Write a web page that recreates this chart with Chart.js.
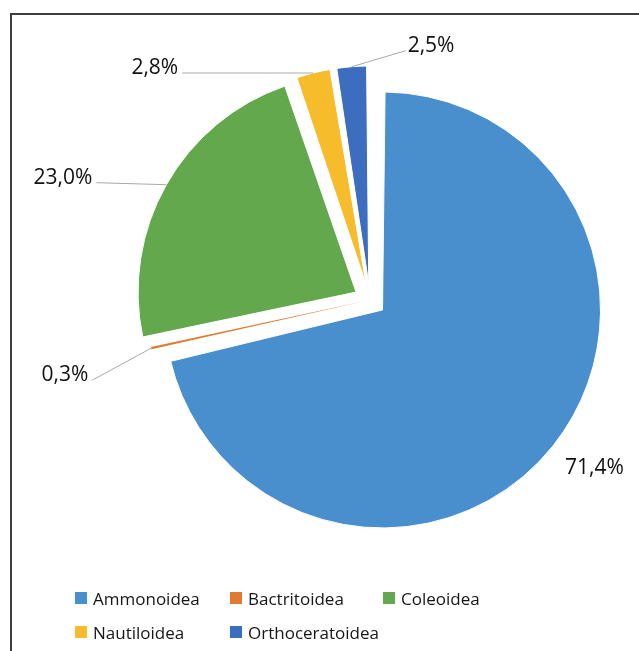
<!DOCTYPE html>
<html>
<head>
<meta charset="utf-8">
<script src="https://cdn.jsdelivr.net/npm/chart.js@4"></script>
<style>
  html, body { margin: 0; padding: 0; background: #fff; }
  body { width: 639px; height: 651px; position: relative; overflow: hidden; font-family: "Open Sans", sans-serif; }
  #frame { position: absolute; left: 10px; top: 13px; width: 660px; height: 680px;
           border-left: 2px solid #3d3d3d; border-top: 2px solid #3d3d3d; }
  #wrap { position: absolute; left: 0; top: 0; width: 639px; height: 651px; }
  .lg-item { position: absolute; display: flex; align-items: center; height: 24px;
             font-size: 17px; color: #161616; white-space: nowrap; }
  .lg-box { width: 12px; height: 12px; margin-right: 6px; }
</style>
</head>
<body>
<div id="frame"></div>
<div id="wrap"><canvas id="pie"></canvas></div>
<div id="legend"></div>
<script>
'use strict';

/* data */
const categories  = ['Ammonoidea', 'Bactritoidea', 'Coleoidea', 'Nautiloidea', 'Orthoceratoidea'];
const shares      = [71.4, 0.3, 23.0, 2.8, 2.5];
const sliceColors = ['#4A8FCD', '#E07A33', '#64A84D', '#F7BC2B', '#3C6DBE'];

/* explode per slice (chart.js moves an arc by a quarter of this) */
const explode = [64, 24, 64, 64, 64];

/* where each value label sits, relative to the slice's outer mid point: dx, dy, leader line */
const labelShift = [
  [10, 27, false],
  [-59, 32, true],
  [-70, -2, true],
  [-131, 0, true],
  [54, -16, true],
];

/* legend grid: column x, row y */
const legendCols = [75, 230, 383];
const legendRows = [586, 620];

const pctText = v => v.toFixed(1).replace('.', ',') + '%';

// keep exploded slices at one visible radius (chart.js grows the outer edge with offset)
const evenRadius = {
  id: 'evenRadius',
  beforeDatasetsDraw(chart) {
    const meta = chart.getDatasetMeta(0);
    const R = meta.controller.outerRadius;
    meta.data.forEach(arc => {
      const t = (arc.options.offset || 0) / 4;
      const fix = 1 - Math.sin(Math.min(Math.PI, arc.circumference));
      arc.outerRadius = R - t * fix;
    });
  }
};

const sliceLabels = {
  id: 'sliceLabels',
  afterDatasetsDraw(chart) {
    const { ctx } = chart;
    const meta = chart.getDatasetMeta(0);
    const R = meta.controller.outerRadius;
    ctx.save();
    ctx.font = '21px "Open Sans"';
    ctx.fillStyle = '#111111';
    ctx.strokeStyle = '#a9a9a9';
    ctx.lineWidth = 1;
    meta.data.forEach((arc, i) => {
      const mid = (arc.startAngle + arc.endAngle) / 2;
      const t = (arc.options.offset || 0) / 4;
      const ox = arc.x + Math.cos(mid) * (t + R);
      const oy = arc.y + Math.sin(mid) * (t + R);
      const [dx, dy, leader] = labelShift[i];
      const ex = ox + dx, ey = oy + dy;
      const toRight = dx > 0;
      if (leader) {
        ctx.beginPath();
        ctx.moveTo(ox, oy);
        ctx.lineTo(ex, ey);
        ctx.stroke();
      }
      ctx.textAlign = toRight ? 'left' : 'right';
      ctx.textBaseline = 'alphabetic';
      ctx.fillText(pctText(shares[i]), ex + (toRight ? 2 : -4), ey + 1);
    });
    ctx.restore();
  }
};

new Chart(document.getElementById('pie'), {
  type: 'pie',
  data: {
    labels: categories,
    datasets: [{
      data: shares,
      backgroundColor: sliceColors,
      borderColor: '#ffffff',
      borderWidth: [1, 0, 1, 1, 1],
      offset: explode,
    }],
  },
  options: {
    responsive: true,
    maintainAspectRatio: false,
    animation: false,
    events: [],
    radius: 218,
    layout: { padding: { left: 110, right: 9, top: 50, bottom: 101 } },
    plugins: { legend: { display: false }, tooltip: { enabled: false } },
  },
  plugins: [evenRadius, sliceLabels],
});

/* legend */
const legend = document.getElementById('legend');
categories.forEach((name, i) => {
  const item = document.createElement('div');
  item.className = 'lg-item';
  item.style.left = legendCols[i % 3] + 'px';
  item.style.top = legendRows[Math.floor(i / 3)] + 'px';
  item.innerHTML = `<span class="lg-box" style="background:${sliceColors[i]}"></span>${name}`;
  legend.appendChild(item);
});
</script>
</body>
</html>
